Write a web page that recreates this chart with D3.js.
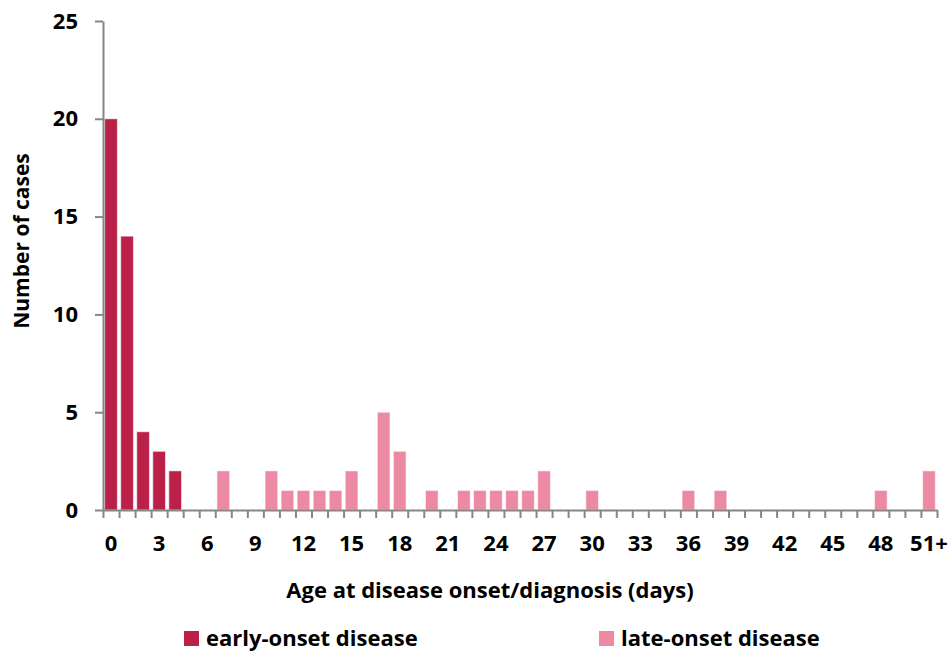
<!DOCTYPE html>
<html>
<head>
<meta charset="utf-8">
<script src="https://cdn.jsdelivr.net/npm/d3@7"></script>
<style>
  body { margin: 0; background: #fff; }
  svg { display: block; }
  text { font-family: "Open Sans", sans-serif; font-weight: bold; fill: #000; }
</style>
</head>
<body>
<div id="chart"></div>
<script>
var categories = ["0","1","2","3","4","5","6","7","8","9","10","11","12","13","14","15","16","17",
    "18","19","20","21","22","23","24","25","26","27","28","29","30","31","32","33","34","35",
    "36","37","38","39","40","41","42","43","44","45","46","47","48","49","50","51+"];
var early = [20,14,4,3,2,0,0,0,0,0,0,0,0,0,0,0,0,0,0,0,0,0,0,0,0,0,0,0,0,0,0,0,0,0,0,0,
    0,0,0,0,0,0,0,0,0,0,0,0,0,0,0,0];
var late = [0,0,0,0,0,0,0,2,0,0,2,1,1,1,1,2,0,5,3,0,1,0,1,1,1,1,1,2,0,0,1,0,0,0,0,0,
    1,0,1,0,0,0,0,0,0,0,0,0,1,0,0,2];
var yTicks = [0, 5, 10, 15, 20, 25];
var series = [
    {name: "early-onset disease", values: early, color: "#BB2048"},
    {name: "late-onset disease", values: late, color: "#EC8AA4"}
];

var width = 948, height = 652;
var plotLeft = 103, plotRight = 937, plotTop = 21, plotBottom = 510;

var svg = d3.select("#chart").append("svg")
    .attr("width", width)
    .attr("height", height);

var x = d3.scaleBand()
    .domain(categories)
    .range([plotLeft, plotRight])
    .paddingInner(0.21)
    .paddingOuter(0.105);

// boundaries between categories, for the tick marks
var xEdge = d3.scaleLinear()
    .domain([0, categories.length])
    .range([plotLeft, plotRight]);

var y = d3.scaleLinear()
    .domain([0, 25])
    .range([plotBottom, plotTop]);

series.forEach(function(s) {
    svg.append("g")
        .selectAll("rect")
        .data(s.values.map(function(v, i) { return {cat: categories[i], v: v}; })
            .filter(function(d) { return d.v > 0; }))
        .enter().append("rect")
        .attr("x", function(d) { return x(d.cat); })
        .attr("width", x.bandwidth())
        .attr("y", function(d) { return y(d.v); })
        .attr("height", function(d) { return y(0) - y(d.v); })
        .attr("fill", s.color)
        .attr("stroke", "rgba(255,255,255,0.55)")
        .attr("stroke-width", 1);
});

svg.append("g")
    .attr("transform", "translate(" + plotLeft + ",0)")
    .call(d3.axisLeft(y).tickValues(yTicks).tickSize(8).tickSizeOuter(0).tickPadding(17));

svg.append("g")
    .attr("transform", "translate(0," + plotBottom + ")")
    .call(d3.axisBottom(xEdge).tickValues(d3.range(categories.length + 1))
        .tickSize(8).tickSizeOuter(0).tickFormat(""));

var xLabels = svg.append("g")
    .attr("transform", "translate(0," + plotBottom + ")")
    .call(d3.axisBottom(x)
        .tickValues(categories.filter(function(c, i) { return i % 3 === 0; }))
        .tickSize(0).tickPadding(25));
xLabels.select(".domain").remove();

svg.selectAll(".domain, .tick line")
    .attr("stroke", "#868686")
    .attr("stroke-width", 2);

svg.selectAll(".tick text")
    .style("font-size", "22px")
    .style("font-family", "'Open Sans', sans-serif")
    .style("font-weight", "bold")
    .attr("fill", "#000");

svg.append("text")
    .attr("transform", "translate(29,241) rotate(-90)")
    .attr("text-anchor", "middle")
    .style("font-size", "21px")
    .text("Number of cases");

svg.append("text")
    .attr("x", 490)
    .attr("y", 598)
    .attr("text-anchor", "middle")
    .style("font-size", "22px")
    .text("Age at disease onset/diagnosis (days)");

var legendX = [184, 599];
var legend = svg.selectAll("g.legendEntry")
    .data(series)
    .enter().append("g")
    .attr("class", "legendEntry")
    .attr("transform", function(d, i) { return "translate(" + legendX[i] + ",631)"; });

legend.append("rect")
    .attr("width", 15)
    .attr("height", 15)
    .attr("fill", function(d) { return d.color; });

legend.append("text")
    .attr("x", 22)
    .attr("y", 15)
    .style("font-size", "22px")
    .text(function(d) { return d.name; });
</script>
</body>
</html>
